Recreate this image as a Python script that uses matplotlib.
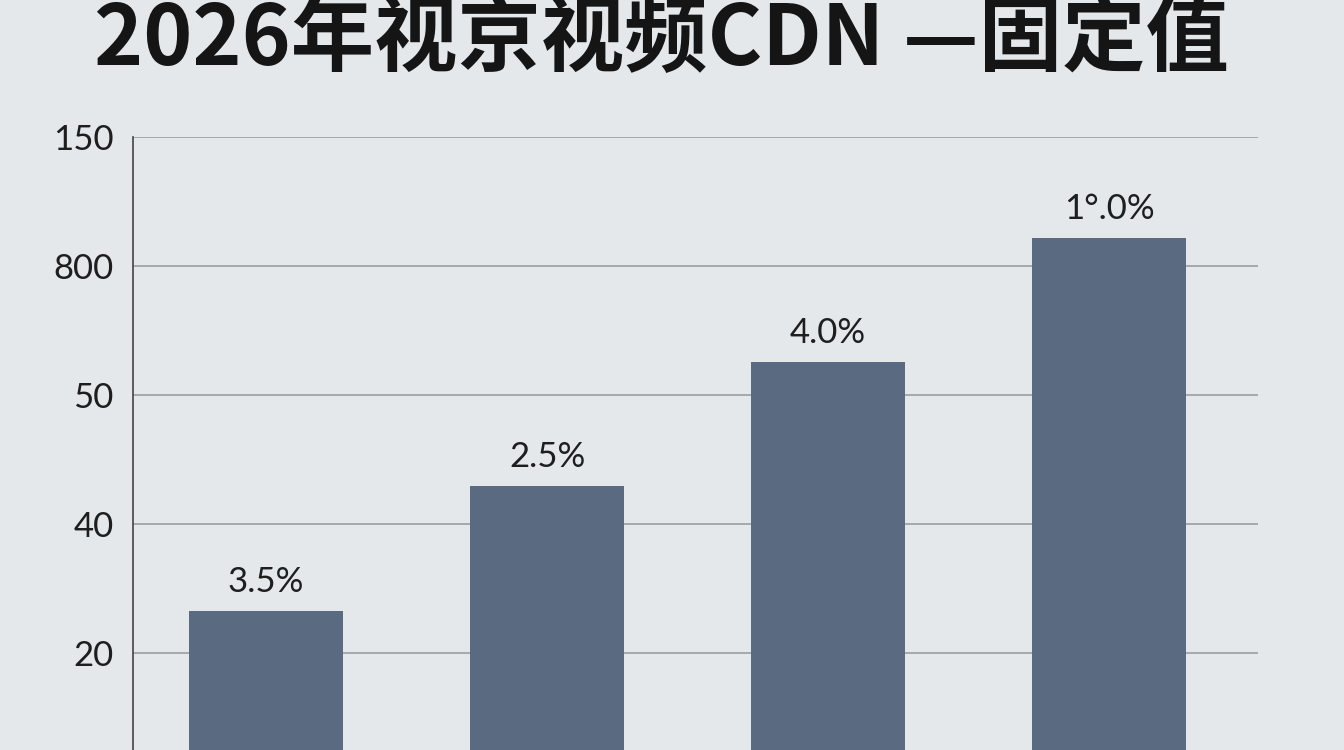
import matplotlib.pyplot as plt

# ---- data (y is in gridline steps) ----
bar_labels = ["3.5%", "2.5%", "4.0%", "1°.0%"]
bar_heights = [1.33, 2.30, 3.26, 4.22]
ytick_pos = [1, 2, 3, 4, 5]
ytick_labels = ["20", "40", "50", "800", "150"]
title = "2026年视京视频CDN —固定值"

bg = "#e4e8eb"
bar_color = "#5a6a80"

plt.rcParams["font.family"] = ["Lato", "Noto Sans CJK SC", "DejaVu Sans"]

fig = plt.figure(figsize=(13.44, 7.5), dpi=100, facecolor=bg)
ax = fig.add_axes([0.099, 0.0, 0.837, 0.817])
ax.set_facecolor(bg)

x = list(range(len(bar_heights)))
bars = ax.bar(x, bar_heights, width=0.545, color=bar_color, zorder=3)

# percent labels above bars
for b, lab in zip(bars, bar_labels):
    ax.text(b.get_x() + b.get_width() / 2, b.get_height() + 0.1, lab,
            ha="center", va="bottom", fontsize=25, color="#1e1e1e", zorder=4)

ax.set_xlim(-0.473, 3.53)
ax.set_ylim(0.25, 5.0)
ax.set_yticks(ytick_pos)
ax.set_yticklabels(ytick_labels, fontsize=25, color="#1e1e1e")
ax.set_xticks([])
ax.tick_params(axis="y", length=0, pad=14)
ax.grid(axis="y", color="#9a9ea3", linewidth=1.2, zorder=1)

for s in ["top", "right", "bottom"]:
    ax.spines[s].set_visible(False)
ax.spines["left"].set_color("#444444")
ax.spines["left"].set_linewidth(1.2)

fig.text(0.492, 0.946, title, ha="center", va="center", fontsize=60,
         fontweight="bold", color="#151515",
         family=["Noto Sans CJK SC", "DejaVu Sans"])

fig.savefig("out.png", dpi=100, facecolor=bg)
